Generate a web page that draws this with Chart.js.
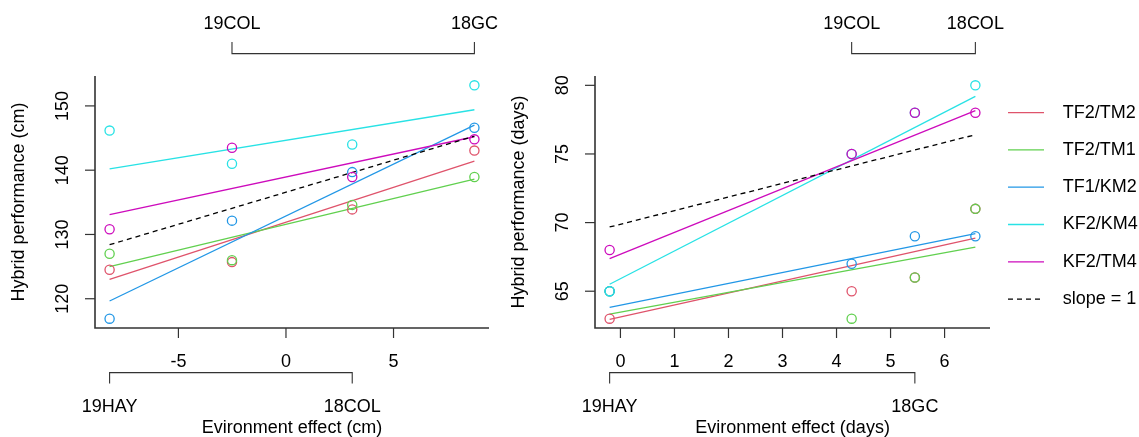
<!DOCTYPE html>
<html>
<head>
<meta charset="utf-8">
<script src="https://cdn.jsdelivr.net/npm/chart.js@4"></script>
<style>
  body { margin: 0; background: #fff; width: 1139px; height: 437px; overflow: hidden; position: relative; }
  canvas { position: absolute; top: 0; }
</style>
</head>
<body>
<canvas id="heightChart" width="500" height="437" style="left:0px"></canvas>
<canvas id="daysChart" width="639" height="437" style="left:500px"></canvas>
<script>
const seriesNames = ['TF2/TM2', 'TF2/TM1', 'TF1/KM2', 'KF2/KM4', 'KF2/TM4']
const seriesColors = ['#DF536B', '#61D04F', '#2297E6', '#28E2E5', '#CD0BBC']

// left panel: plant height (cm)
const envNamesCm = ['19HAY', '19COL', '18COL', '18GC']
const envEffectCm = [-8.2, -2.51, 3.08, 8.76]
const xTicksCm = [-5, 0, 5]
const yTicksCm = [120, 130, 140, 150]
const cmTF2TM2 = [124.5, 125.7, 133.9, 143.05]
const cmTF2TM1 = [127.0, 126.0, 134.6, 138.95]
const cmTF1KM2 = [116.9, 132.15, 139.7, 146.6]
const cmKF2KM4 = [146.16, 141.0, 144.0, 153.2]
const cmKF2TM4 = [130.8, 143.5, 138.95, 144.8]
// fitted lines, value at lowest and highest environment
const fitCmTF2TM2 = [123.0, 141.4]
const fitCmTF2TM1 = [125.0, 138.6]
const fitCmTF1KM2 = [119.65, 147.0]
const fitCmKF2KM4 = [140.2, 149.4]
const fitCmKF2TM4 = [133.1, 145.2]
const slopeOneCm = [128.4, 145.3]

// right panel: flowering time (days)
const envNamesDays = ['19HAY', '19COL', '18GC', '18COL']
const envEffectDays = [-0.2, 4.28, 5.45, 6.57]
const xTicksDays = [0, 1, 2, 3, 4, 5, 6]
const yTicksDays = [65, 70, 75, 80]
const daysTF2TM2 = [63, 65, 66, 71]
const daysTF2TM1 = [65, 63, 66, 71]
const daysTF1KM2 = [65, 67, 69, 69]
const daysKF2KM4 = [65, 75, 78, 80]
const daysKF2TM4 = [68, 75, 78, 78]
const fitDaysTF2TM2 = [62.95, 68.86]
const fitDaysTF2TM1 = [63.33, 68.22]
const fitDaysTF1KM2 = [63.83, 69.2]
const fitDaysKF2KM4 = [65.51, 79.2]
const fitDaysKF2TM4 = [67.38, 78.15]
const slopeOneDays = [69.68, 76.4]

const FONT = '18px "Liberation Sans", Arial, Helvetica, sans-serif'

// R style axes, brackets with environment names, and legend
const rAxes = {
  id: 'rAxes',
  afterDraw(chart, args, o) {
    const ctx = chart.ctx
    const a = chart.chartArea
    const xs = chart.scales.x
    const ys = chart.scales.y
    const seg = (x1, y1, x2, y2) => { ctx.beginPath(); ctx.moveTo(x1, y1); ctx.lineTo(x2, y2); ctx.stroke() }
    ctx.save()
    ctx.font = FONT
    ctx.fillStyle = '#000'
    ctx.strokeStyle = '#333'
    ctx.lineWidth = 1.6
    ctx.beginPath()
    ctx.moveTo(a.left, a.top)
    ctx.lineTo(a.left, a.bottom)
    ctx.lineTo(a.right, a.bottom)
    ctx.stroke()

    ctx.lineWidth = 1.2
    ctx.textAlign = 'center'
    ctx.textBaseline = 'middle'
    o.xTicks.forEach(v => {
      const x = xs.getPixelForValue(v)
      seg(x, a.bottom, x, a.bottom + 10)
      ctx.fillText(String(v), x, a.bottom + 34)
    })
    o.yTicks.forEach(v => {
      const y = ys.getPixelForValue(v)
      seg(a.left - 10, y, a.left, y)
      ctx.save()
      ctx.translate(a.left - 32, y)
      ctx.rotate(-Math.PI / 2)
      ctx.fillText(String(v), 0, 0)
      ctx.restore()
    })

    // environment brackets: bottom for 1st/3rd, top for 2nd/4th
    ctx.lineWidth = 1.1
    const bracket = (i1, i2, yLine, yEnd, yText) => {
      const x1 = xs.getPixelForValue(o.envValues[i1])
      const x2 = xs.getPixelForValue(o.envValues[i2])
      ctx.beginPath()
      ctx.moveTo(x1, yEnd); ctx.lineTo(x1, yLine); ctx.lineTo(x2, yLine); ctx.lineTo(x2, yEnd)
      ctx.stroke()
      ctx.fillText(o.envNames[i1], x1, yText)
      ctx.fillText(o.envNames[i2], x2, yText)
    }
    bracket(0, 2, a.bottom + 44.6, a.bottom + 55.6, a.bottom + 79)
    bracket(1, 3, a.top - 22.4, a.top - 34, a.top - 52.4)

    ctx.fillText(o.xTitle, (a.left + a.right) / 2, a.bottom + 100.5)
    ctx.save()
    ctx.translate(a.left - 76, (a.top + a.bottom) / 2)
    ctx.rotate(-Math.PI / 2)
    ctx.fillText(o.yTitle, 0, 0)
    ctx.restore()

    if (o.legend) {
      ctx.textAlign = 'left'
      const items = chart.data.datasets.filter(d => d.showLine)
      items.forEach((d, i) => {
        const y = a.top + 36.6 + i * 37.3
        ctx.strokeStyle = d.borderColor
        ctx.lineWidth = 1.3
        ctx.setLineDash(d.borderDash || [])
        seg(a.right + 18, y, a.right + 54, y)
        ctx.setLineDash([])
        ctx.fillText(d.label, a.right + 72.7, y)
      })
    }
    ctx.restore()
  }
}

function rRange(vals) {
  const lo = Math.min(...vals), hi = Math.max(...vals)
  const pad = (hi - lo) * 0.04
  return [lo - pad, hi + pad]
}

function buildChart(id, env, points, fits, slopeOne, pad, opts) {
  const datasets = []
  const first = env[0], last = env[env.length - 1]
  fits.forEach((f, i) => {
    datasets.push({
      label: seriesNames[i],
      data: [{x: first, y: f[0]}, {x: last, y: f[1]}],
      showLine: true, borderColor: seriesColors[i], borderWidth: 1.3,
      pointRadius: 0, order: 100 - datasets.length
    })
  })
  datasets.push({
    label: 'slope = 1',
    data: [{x: first, y: slopeOne[0]}, {x: last, y: slopeOne[1]}],
    showLine: true, borderColor: '#000', borderWidth: 1.3, borderDash: [5, 4],
    pointRadius: 0, order: 100 - datasets.length
  })
  points.forEach((p, i) => {
    datasets.push({
      label: seriesNames[i] + ' obs',
      data: p.map((v, j) => ({x: env[j], y: v})),
      showLine: false, pointStyle: 'circle', pointRadius: 4.6,
      borderColor: seriesColors[i], backgroundColor: 'rgba(0,0,0,0)', pointBorderWidth: 1.3,
      order: 100 - datasets.length
    })
  })
  const xr = rRange(env)
  const yr = rRange(points.flat())
  return new Chart(document.getElementById(id).getContext('2d'), {
    type: 'scatter',
    data: { datasets: datasets },
    options: {
      responsive: false,
      animation: false,
      layout: { padding: pad },
      plugins: { legend: { display: false }, tooltip: { enabled: false }, rAxes: opts },
      scales: {
        x: { type: 'linear', min: xr[0], max: xr[1], display: false },
        y: { type: 'linear', min: yr[0], max: yr[1], display: false }
      }
    },
    plugins: [rAxes]
  })
}

buildChart('heightChart', envEffectCm,
  [cmTF2TM2, cmTF2TM1, cmTF1KM2, cmKF2KM4, cmKF2TM4],
  [fitCmTF2TM2, fitCmTF2TM1, fitCmTF1KM2, fitCmKF2KM4, fitCmKF2TM4],
  slopeOneCm,
  { left: 95, right: 11, top: 76, bottom: 109 },
  { xTicks: xTicksCm, yTicks: yTicksCm, envNames: envNamesCm, envValues: envEffectCm,
    xTitle: 'Evironment effect (cm)', yTitle: 'Hybrid performance (cm)', legend: false })

buildChart('daysChart', envEffectDays,
  [daysTF2TM2, daysTF2TM1, daysTF1KM2, daysKF2KM4, daysKF2TM4],
  [fitDaysTF2TM2, fitDaysTF2TM1, fitDaysTF1KM2, fitDaysKF2KM4, fitDaysKF2TM4],
  slopeOneDays,
  { left: 95, right: 149, top: 76, bottom: 109 },
  { xTicks: xTicksDays, yTicks: yTicksDays, envNames: envNamesDays, envValues: envEffectDays,
    xTitle: 'Evironment effect (days)', yTitle: 'Hybrid performance (days)', legend: true })
</script>
</body>
</html>
